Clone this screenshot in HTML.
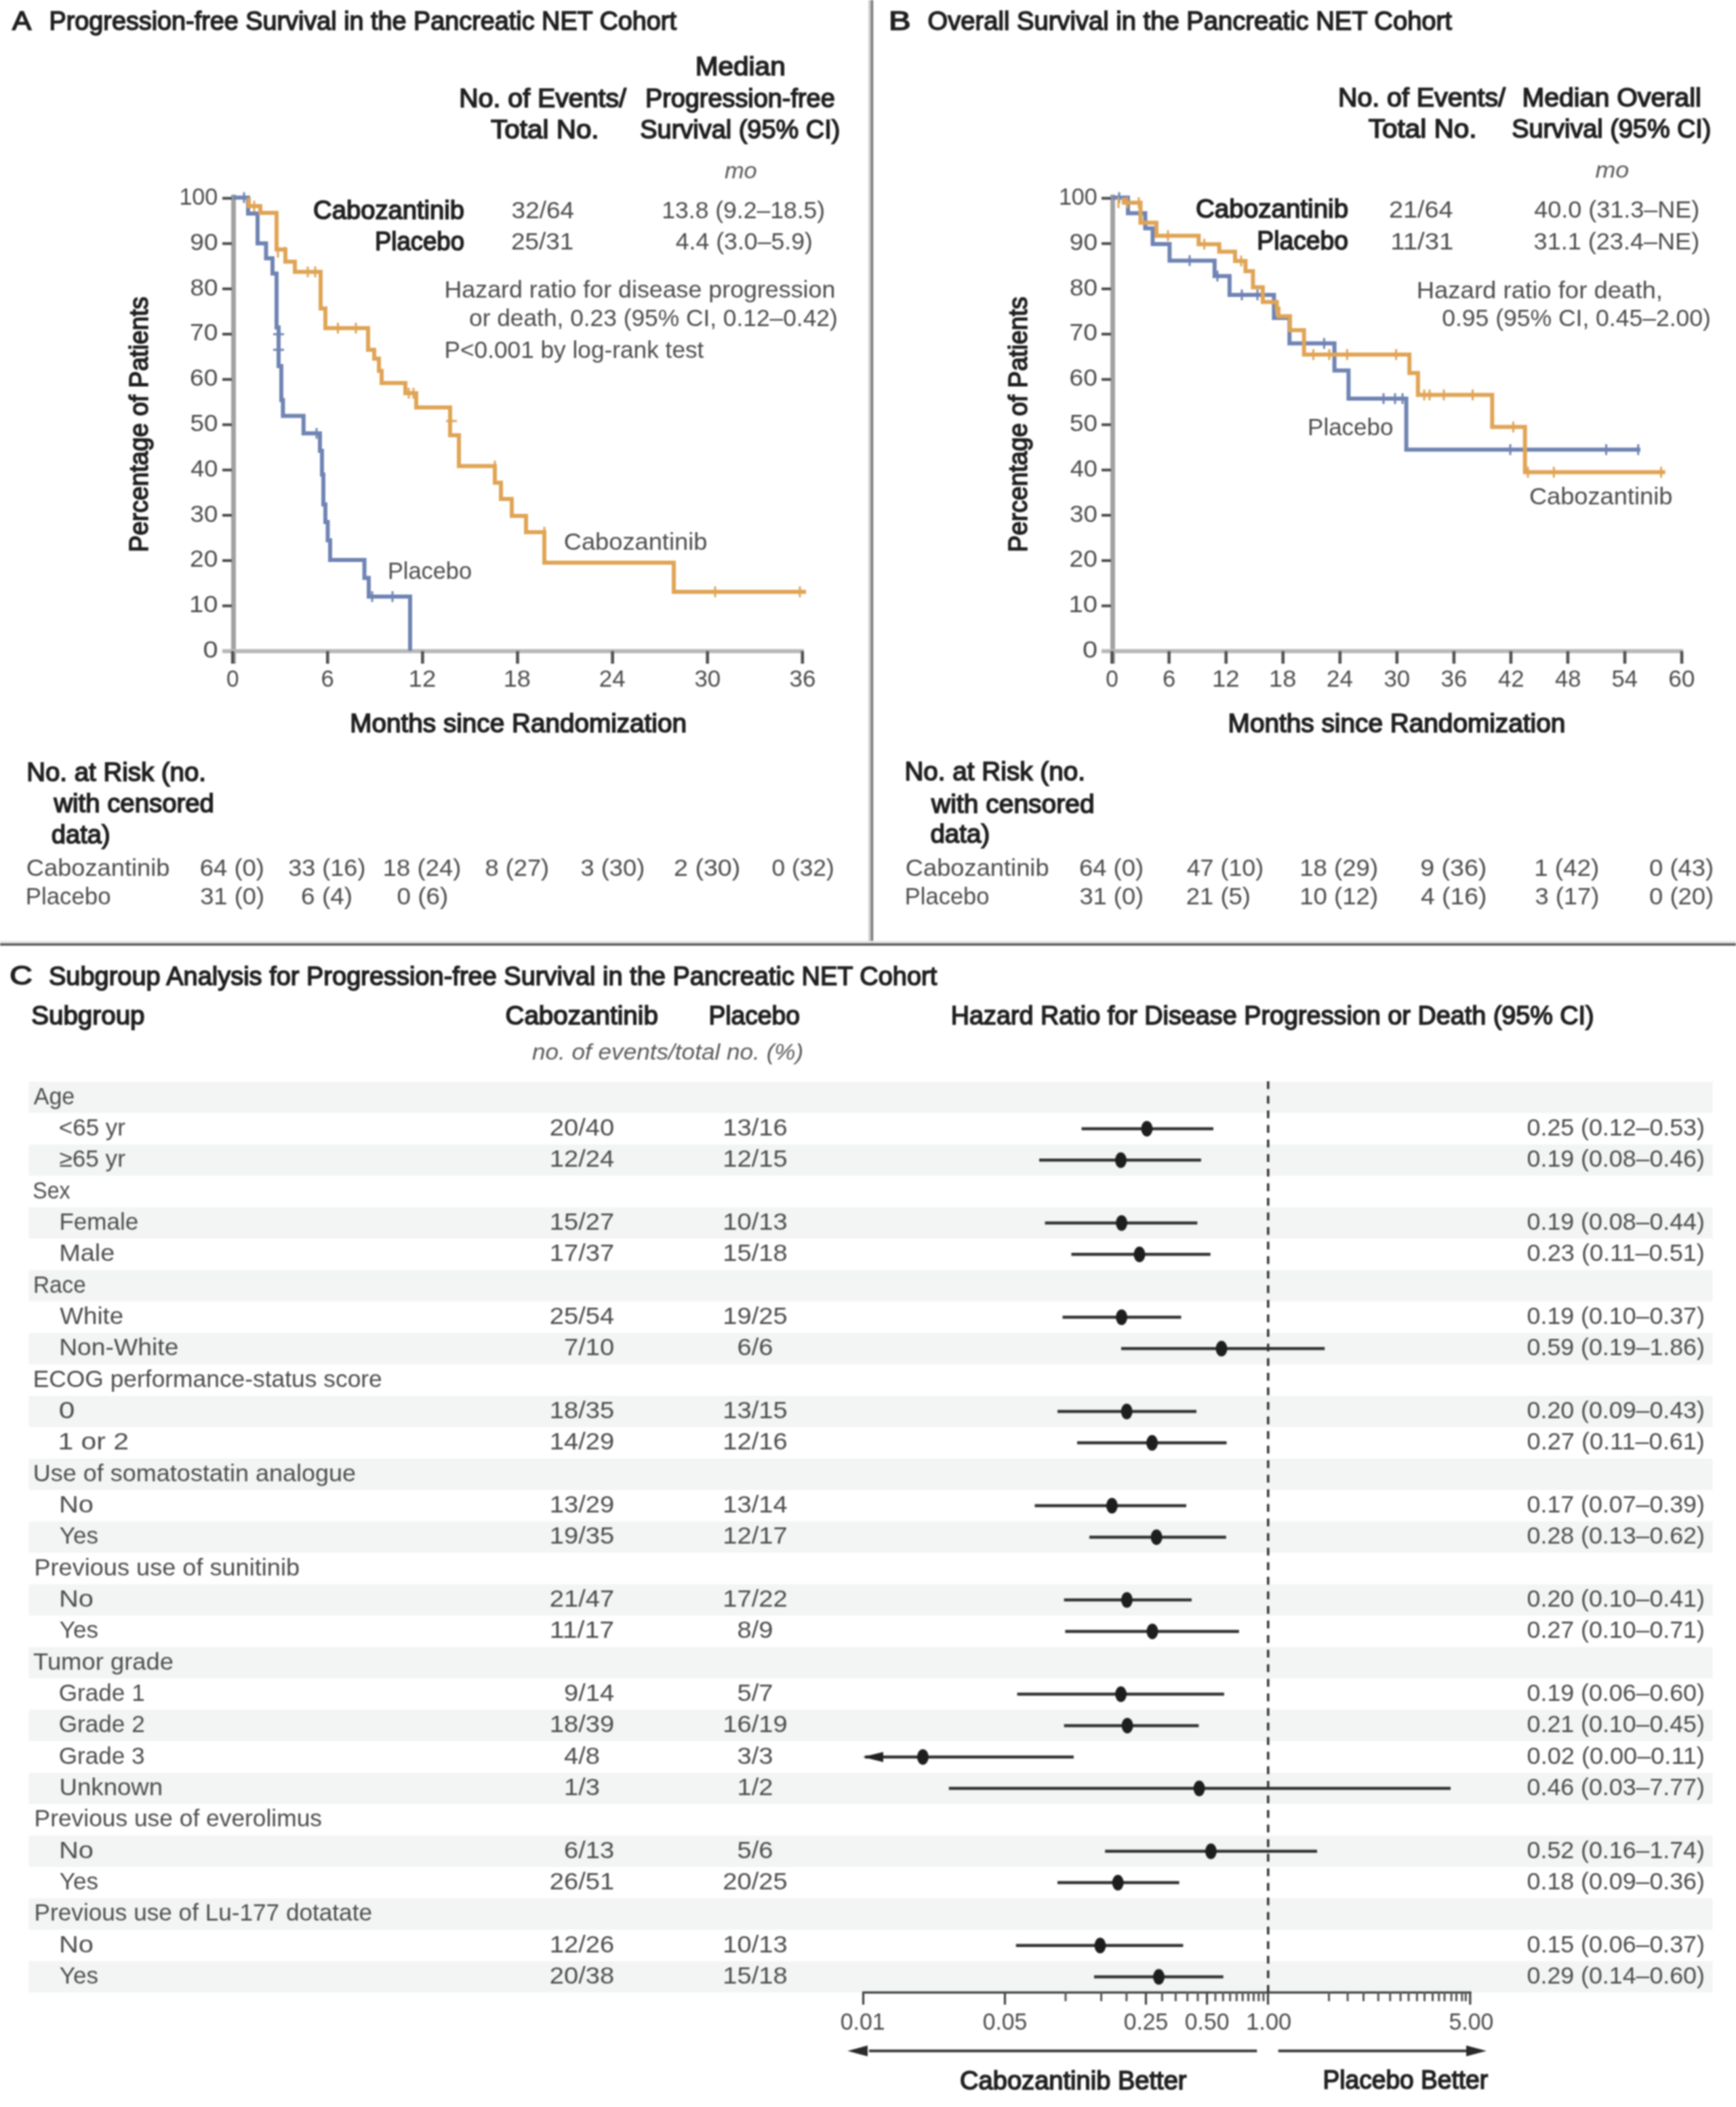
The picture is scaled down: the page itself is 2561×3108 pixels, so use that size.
<!DOCTYPE html>
<html><head><meta charset="utf-8"><title>Figure</title>
<style>
html,body{margin:0;padding:0;background:#fff;}
body{width:2561px;height:3108px;overflow:hidden;}
svg{display:block;font-family:"Liberation Sans",sans-serif;filter:blur(0.8px);}
</style></head><body>
<svg width="2561" height="3108" viewBox="0 0 2561 3108">
<rect x="0" y="0" width="2561" height="3108" fill="#fff"/>
<rect x="1281.3" y="0.0" width="3.5" height="1391.0" fill="#c8c8c8"/>
<rect x="1284.8" y="0.0" width="3.4" height="1393.0" fill="#777777"/>
<rect x="0.0" y="1387.8" width="2561.0" height="3.6" fill="#e6e6e6"/>
<rect x="0.0" y="1391.4" width="2561.0" height="3.6" fill="#5c5c5c"/>
<text x="17.9" y="44.0" font-size="39.0" font-weight="normal" stroke="#202020" stroke-width="1.6" textLength="28.2" lengthAdjust="spacingAndGlyphs" fill="#202020">A</text>
<text x="72.5" y="44.0" font-size="39.0" font-weight="normal" stroke="#202020" stroke-width="1.6" textLength="925.4" lengthAdjust="spacingAndGlyphs" fill="#202020">Progression-free Survival in the Pancreatic NET Cohort</text>
<text x="1025.7" y="111.0" font-size="38.0" font-weight="normal" stroke="#202020" stroke-width="1.6" textLength="133.0" lengthAdjust="spacingAndGlyphs" fill="#202020">Median</text>
<text x="677.3" y="157.7" font-size="38.0" font-weight="normal" stroke="#202020" stroke-width="1.6" textLength="246.7" lengthAdjust="spacingAndGlyphs" fill="#202020">No. of Events/</text>
<text x="951.9" y="158.0" font-size="38.0" font-weight="normal" stroke="#202020" stroke-width="1.6" textLength="279.8" lengthAdjust="spacingAndGlyphs" fill="#202020">Progression-free</text>
<text x="724.1" y="204.0" font-size="38.0" font-weight="normal" stroke="#202020" stroke-width="1.6" textLength="159.5" lengthAdjust="spacingAndGlyphs" fill="#202020">Total No.</text>
<text x="944.3" y="204.0" font-size="38.0" font-weight="normal" stroke="#202020" stroke-width="1.6" textLength="295.1" lengthAdjust="spacingAndGlyphs" fill="#202020">Survival (95% CI)</text>
<text x="1068.9" y="263.0" font-size="33.0" font-style="italic" textLength="47.8" lengthAdjust="spacingAndGlyphs" fill="#5a5a5a">mo</text>
<text x="462.1" y="322.7" font-size="38.0" font-weight="normal" stroke="#202020" stroke-width="1.6" textLength="223.0" lengthAdjust="spacingAndGlyphs" fill="#202020">Cabozantinib</text>
<text x="553.0" y="368.8" font-size="38.0" font-weight="normal" stroke="#202020" stroke-width="1.6" textLength="132.0" lengthAdjust="spacingAndGlyphs" fill="#202020">Placebo</text>
<text x="754.6" y="322.0" font-size="35.0" textLength="92.5" lengthAdjust="spacingAndGlyphs" fill="#4d4d4d">32/64</text>
<text x="754.1" y="368.0" font-size="35.0" textLength="92.3" lengthAdjust="spacingAndGlyphs" fill="#4d4d4d">25/31</text>
<text x="976.3" y="322.0" font-size="35.0" textLength="240.9" lengthAdjust="spacingAndGlyphs" fill="#4d4d4d">13.8 (9.2–18.5)</text>
<text x="996.8" y="368.0" font-size="35.0" textLength="202.1" lengthAdjust="spacingAndGlyphs" fill="#4d4d4d">4.4 (3.0–5.9)</text>
<text x="655.5" y="438.7" font-size="35.0" textLength="576.8" lengthAdjust="spacingAndGlyphs" fill="#4d4d4d">Hazard ratio for disease progression</text>
<text x="692.0" y="481.0" font-size="35.0" textLength="543.7" lengthAdjust="spacingAndGlyphs" fill="#4d4d4d">or death, 0.23 (95% CI, 0.12–0.42)</text>
<text x="655.5" y="528.0" font-size="35.0" textLength="382.9" lengthAdjust="spacingAndGlyphs" fill="#4d4d4d">P&lt;0.001 by log-rank test</text>
<rect x="341.0" y="287.0" width="7.0" height="692.0" fill="#a2a2a2"/>
<rect x="328.0" y="958.5" width="14.0" height="4.0" fill="#4a4a4a"/>
<text x="299.4" y="970.0" font-size="35.0" textLength="22.1" lengthAdjust="spacingAndGlyphs" fill="#4d4d4d">0</text>
<rect x="328.0" y="891.7" width="14.0" height="4.0" fill="#4a4a4a"/>
<text x="279.1" y="903.2" font-size="35.0" textLength="42.4" lengthAdjust="spacingAndGlyphs" fill="#4d4d4d">10</text>
<rect x="328.0" y="824.9" width="14.0" height="4.0" fill="#4a4a4a"/>
<text x="280.1" y="836.4" font-size="35.0" textLength="41.3" lengthAdjust="spacingAndGlyphs" fill="#4d4d4d">20</text>
<rect x="328.0" y="758.1" width="14.0" height="4.0" fill="#4a4a4a"/>
<text x="280.6" y="769.6" font-size="35.0" textLength="40.8" lengthAdjust="spacingAndGlyphs" fill="#4d4d4d">30</text>
<rect x="328.0" y="691.3" width="14.0" height="4.0" fill="#4a4a4a"/>
<text x="281.2" y="702.8" font-size="35.0" textLength="40.2" lengthAdjust="spacingAndGlyphs" fill="#4d4d4d">40</text>
<rect x="328.0" y="624.5" width="14.0" height="4.0" fill="#4a4a4a"/>
<text x="280.5" y="636.0" font-size="35.0" textLength="40.9" lengthAdjust="spacingAndGlyphs" fill="#4d4d4d">50</text>
<rect x="328.0" y="557.7" width="14.0" height="4.0" fill="#4a4a4a"/>
<text x="280.1" y="569.2" font-size="35.0" textLength="41.3" lengthAdjust="spacingAndGlyphs" fill="#4d4d4d">60</text>
<rect x="328.0" y="490.9" width="14.0" height="4.0" fill="#4a4a4a"/>
<text x="280.1" y="502.4" font-size="35.0" textLength="41.4" lengthAdjust="spacingAndGlyphs" fill="#4d4d4d">70</text>
<rect x="328.0" y="424.1" width="14.0" height="4.0" fill="#4a4a4a"/>
<text x="280.4" y="435.6" font-size="35.0" textLength="41.0" lengthAdjust="spacingAndGlyphs" fill="#4d4d4d">80</text>
<rect x="328.0" y="357.3" width="14.0" height="4.0" fill="#4a4a4a"/>
<text x="280.3" y="368.8" font-size="35.0" textLength="41.2" lengthAdjust="spacingAndGlyphs" fill="#4d4d4d">90</text>
<rect x="328.0" y="290.5" width="14.0" height="4.0" fill="#4a4a4a"/>
<text x="264.4" y="302.0" font-size="35.0" textLength="56.9" lengthAdjust="spacingAndGlyphs" fill="#4d4d4d">100</text>
<rect x="328.0" y="957.5" width="857.8" height="6.0" fill="#b8b8b8"/>
<rect x="340.9" y="960.5" width="4.6" height="18.5" fill="#505050"/>
<text x="333.9" y="1013.0" font-size="35.0" textLength="18.6" lengthAdjust="spacingAndGlyphs" fill="#4d4d4d">0</text>
<rect x="481.0" y="960.5" width="4.6" height="18.5" fill="#505050"/>
<text x="473.5" y="1013.0" font-size="35.0" textLength="19.3" lengthAdjust="spacingAndGlyphs" fill="#4d4d4d">6</text>
<rect x="621.1" y="960.5" width="4.6" height="18.5" fill="#505050"/>
<text x="602.6" y="1013.0" font-size="35.0" textLength="40.6" lengthAdjust="spacingAndGlyphs" fill="#4d4d4d">12</text>
<rect x="761.2" y="960.5" width="4.6" height="18.5" fill="#505050"/>
<text x="742.7" y="1013.0" font-size="35.0" textLength="40.3" lengthAdjust="spacingAndGlyphs" fill="#4d4d4d">18</text>
<rect x="901.3" y="960.5" width="4.6" height="18.5" fill="#505050"/>
<text x="883.8" y="1013.0" font-size="35.0" textLength="38.8" lengthAdjust="spacingAndGlyphs" fill="#4d4d4d">24</text>
<rect x="1041.4" y="960.5" width="4.6" height="18.5" fill="#505050"/>
<text x="1024.4" y="1013.0" font-size="35.0" textLength="38.7" lengthAdjust="spacingAndGlyphs" fill="#4d4d4d">30</text>
<rect x="1181.5" y="960.5" width="4.6" height="18.5" fill="#505050"/>
<text x="1164.5" y="1013.0" font-size="35.0" textLength="38.9" lengthAdjust="spacingAndGlyphs" fill="#4d4d4d">36</text>
<text x="516.3" y="1080.4" font-size="38.0" font-weight="normal" stroke="#202020" stroke-width="1.6" textLength="496.7" lengthAdjust="spacingAndGlyphs" fill="#202020">Months since Randomization</text>
<g transform="translate(0,1250.3) rotate(-90)"><text x="435.8" y="217.8" font-size="38.0" font-weight="normal" stroke="#202020" stroke-width="1.6" textLength="376.9" lengthAdjust="spacingAndGlyphs" fill="#202020">Percentage of Patients</text></g>
<text x="39.2" y="1151.6" font-size="38.0" font-weight="normal" stroke="#202020" stroke-width="1.6" textLength="264.8" lengthAdjust="spacingAndGlyphs" fill="#202020">No. at Risk (no.</text>
<text x="79.4" y="1197.7" font-size="38.0" font-weight="normal" stroke="#202020" stroke-width="1.6" textLength="236.5" lengthAdjust="spacingAndGlyphs" fill="#202020">with censored</text>
<text x="75.8" y="1243.8" font-size="38.0" font-weight="normal" stroke="#202020" stroke-width="1.6" textLength="87.0" lengthAdjust="spacingAndGlyphs" fill="#202020">data)</text>
<text x="38.8" y="1291.7" font-size="35.0" textLength="211.6" lengthAdjust="spacingAndGlyphs" fill="#4d4d4d">Cabozantinib</text>
<text x="37.7" y="1334.0" font-size="35.0" textLength="125.9" lengthAdjust="spacingAndGlyphs" fill="#4d4d4d">Placebo</text>
<text x="294.7" y="1291.7" font-size="35.0" textLength="95.3" lengthAdjust="spacingAndGlyphs" fill="#4d4d4d">64 (0)</text>
<text x="425.2" y="1291.7" font-size="35.0" textLength="114.2" lengthAdjust="spacingAndGlyphs" fill="#4d4d4d">33 (16)</text>
<text x="564.8" y="1291.7" font-size="35.0" textLength="115.6" lengthAdjust="spacingAndGlyphs" fill="#4d4d4d">18 (24)</text>
<text x="715.4" y="1291.7" font-size="35.0" textLength="94.8" lengthAdjust="spacingAndGlyphs" fill="#4d4d4d">8 (27)</text>
<text x="856.6" y="1291.7" font-size="35.0" textLength="94.6" lengthAdjust="spacingAndGlyphs" fill="#4d4d4d">3 (30)</text>
<text x="994.1" y="1291.7" font-size="35.0" textLength="98.2" lengthAdjust="spacingAndGlyphs" fill="#4d4d4d">2 (30)</text>
<text x="1138.6" y="1291.7" font-size="35.0" textLength="92.1" lengthAdjust="spacingAndGlyphs" fill="#4d4d4d">0 (32)</text>
<text x="295.2" y="1334.0" font-size="35.0" textLength="94.8" lengthAdjust="spacingAndGlyphs" fill="#4d4d4d">31 (0)</text>
<text x="444.1" y="1334.0" font-size="35.0" textLength="76.0" lengthAdjust="spacingAndGlyphs" fill="#4d4d4d">6 (4)</text>
<text x="585.6" y="1334.0" font-size="35.0" textLength="75.7" lengthAdjust="spacingAndGlyphs" fill="#4d4d4d">0 (6)</text>
<text x="571.9" y="853.5" font-size="35.0" textLength="124.2" lengthAdjust="spacingAndGlyphs" fill="#4d4d4d">Placebo</text>
<text x="831.7" y="810.6" font-size="35.0" textLength="211.7" lengthAdjust="spacingAndGlyphs" fill="#4d4d4d">Cabozantinib</text>
<path d="M344,291.5 H366 V315 H380 V359 H392.5 V381 H402 V403.5 H408 V483 H411 V540 H415 V590 H417.4 V613.5 H447.8 V639.3 H472 V665 H475 V700 H477 V744 H480 V770 H483.5 V797 H487 V826 H537.6 V852.6 H544 V880 H605 V960" fill="none" stroke="#6f84b3" stroke-width="6.0" stroke-linejoin="miter" stroke-linecap="butt"/>
<rect x="358.5" y="283.5" width="3.0" height="16.0" fill="#6f84b3"/>
<rect x="465.5" y="631.3" width="3.0" height="16.0" fill="#6f84b3"/>
<rect x="547.5" y="872.0" width="3.0" height="16.0" fill="#6f84b3"/>
<rect x="577.5" y="872.0" width="3.0" height="16.0" fill="#6f84b3"/>
<rect x="403.0" y="491.5" width="16.0" height="3.0" fill="#6f84b3"/>
<rect x="403.0" y="514.5" width="16.0" height="3.0" fill="#6f84b3"/>
<path d="M367,291.5 V304 H384 V314 H408 V368 H421 V386 H435 V401 H473 V455 H480 V484 H543 V516 H552 V529 H559 V547 H563 V565 H598 V580 H614 V601 H664 V642 H677 V687.5 H730 V712 H739 V736 H755 V761 H776 V785 H803 V830 H994 V873 H1189" fill="none" stroke="#e0a455" stroke-width="6.0" stroke-linejoin="miter" stroke-linecap="butt"/>
<rect x="373.5" y="296.0" width="3.0" height="16.0" fill="#e0a455"/>
<rect x="408.5" y="364.0" width="3.0" height="16.0" fill="#e0a455"/>
<rect x="418.5" y="364.0" width="3.0" height="16.0" fill="#e0a455"/>
<rect x="452.5" y="393.0" width="3.0" height="16.0" fill="#e0a455"/>
<rect x="463.5" y="393.0" width="3.0" height="16.0" fill="#e0a455"/>
<rect x="497.0" y="476.0" width="3.0" height="16.0" fill="#e0a455"/>
<rect x="523.5" y="476.0" width="3.0" height="16.0" fill="#e0a455"/>
<rect x="601.5" y="572.0" width="3.0" height="16.0" fill="#e0a455"/>
<rect x="608.5" y="572.0" width="3.0" height="16.0" fill="#e0a455"/>
<rect x="728.5" y="679.5" width="3.0" height="16.0" fill="#e0a455"/>
<rect x="801.5" y="777.0" width="3.0" height="16.0" fill="#e0a455"/>
<rect x="1053.5" y="865.0" width="3.0" height="16.0" fill="#e0a455"/>
<rect x="1178.5" y="865.0" width="3.0" height="16.0" fill="#e0a455"/>
<rect x="658.0" y="619.5" width="16.0" height="3.0" fill="#e0a455"/>
<text x="1311.0" y="44.0" font-size="39.0" font-weight="normal" stroke="#202020" stroke-width="1.6" textLength="32.6" lengthAdjust="spacingAndGlyphs" fill="#202020">B</text>
<text x="1368.5" y="44.0" font-size="39.0" font-weight="normal" stroke="#202020" stroke-width="1.6" textLength="773.4" lengthAdjust="spacingAndGlyphs" fill="#202020">Overall Survival in the Pancreatic NET Cohort</text>
<text x="1974.0" y="157.0" font-size="38.0" font-weight="normal" stroke="#202020" stroke-width="1.6" textLength="247.0" lengthAdjust="spacingAndGlyphs" fill="#202020">No. of Events/</text>
<text x="2245.4" y="157.0" font-size="38.0" font-weight="normal" stroke="#202020" stroke-width="1.6" textLength="264.3" lengthAdjust="spacingAndGlyphs" fill="#202020">Median Overall</text>
<text x="2018.8" y="203.0" font-size="38.0" font-weight="normal" stroke="#202020" stroke-width="1.6" textLength="159.6" lengthAdjust="spacingAndGlyphs" fill="#202020">Total No.</text>
<text x="2230.3" y="203.0" font-size="38.0" font-weight="normal" stroke="#202020" stroke-width="1.6" textLength="294.1" lengthAdjust="spacingAndGlyphs" fill="#202020">Survival (95% CI)</text>
<text x="2353.4" y="262.0" font-size="33.0" font-style="italic" textLength="49.7" lengthAdjust="spacingAndGlyphs" fill="#5a5a5a">mo</text>
<text x="1764.0" y="321.0" font-size="38.0" font-weight="normal" stroke="#202020" stroke-width="1.6" textLength="225.1" lengthAdjust="spacingAndGlyphs" fill="#202020">Cabozantinib</text>
<text x="1854.3" y="368.0" font-size="38.0" font-weight="normal" stroke="#202020" stroke-width="1.6" textLength="134.7" lengthAdjust="spacingAndGlyphs" fill="#202020">Placebo</text>
<text x="2049.1" y="321.0" font-size="35.0" textLength="94.5" lengthAdjust="spacingAndGlyphs" fill="#4d4d4d">21/64</text>
<text x="2051.2" y="368.0" font-size="35.0" textLength="93.2" lengthAdjust="spacingAndGlyphs" fill="#4d4d4d">11/31</text>
<text x="2263.2" y="321.0" font-size="35.0" textLength="244.1" lengthAdjust="spacingAndGlyphs" fill="#4d4d4d">40.0 (31.3–NE)</text>
<text x="2262.6" y="368.0" font-size="35.0" textLength="244.6" lengthAdjust="spacingAndGlyphs" fill="#4d4d4d">31.1 (23.4–NE)</text>
<text x="2089.7" y="440.0" font-size="35.0" textLength="363.3" lengthAdjust="spacingAndGlyphs" fill="#4d4d4d">Hazard ratio for death,</text>
<text x="2127.2" y="481.4" font-size="35.0" textLength="396.7" lengthAdjust="spacingAndGlyphs" fill="#4d4d4d">0.95 (95% CI, 0.45–2.00)</text>
<rect x="1638.0" y="287.0" width="7.0" height="692.0" fill="#a2a2a2"/>
<rect x="1625.0" y="958.5" width="14.0" height="4.0" fill="#4a4a4a"/>
<text x="1596.9" y="970.0" font-size="35.0" textLength="22.1" lengthAdjust="spacingAndGlyphs" fill="#4d4d4d">0</text>
<rect x="1625.0" y="891.7" width="14.0" height="4.0" fill="#4a4a4a"/>
<text x="1576.6" y="903.2" font-size="35.0" textLength="42.4" lengthAdjust="spacingAndGlyphs" fill="#4d4d4d">10</text>
<rect x="1625.0" y="824.9" width="14.0" height="4.0" fill="#4a4a4a"/>
<text x="1577.6" y="836.4" font-size="35.0" textLength="41.3" lengthAdjust="spacingAndGlyphs" fill="#4d4d4d">20</text>
<rect x="1625.0" y="758.1" width="14.0" height="4.0" fill="#4a4a4a"/>
<text x="1578.1" y="769.6" font-size="35.0" textLength="40.8" lengthAdjust="spacingAndGlyphs" fill="#4d4d4d">30</text>
<rect x="1625.0" y="691.3" width="14.0" height="4.0" fill="#4a4a4a"/>
<text x="1578.7" y="702.8" font-size="35.0" textLength="40.2" lengthAdjust="spacingAndGlyphs" fill="#4d4d4d">40</text>
<rect x="1625.0" y="624.5" width="14.0" height="4.0" fill="#4a4a4a"/>
<text x="1578.0" y="636.0" font-size="35.0" textLength="40.9" lengthAdjust="spacingAndGlyphs" fill="#4d4d4d">50</text>
<rect x="1625.0" y="557.7" width="14.0" height="4.0" fill="#4a4a4a"/>
<text x="1577.6" y="569.2" font-size="35.0" textLength="41.3" lengthAdjust="spacingAndGlyphs" fill="#4d4d4d">60</text>
<rect x="1625.0" y="490.9" width="14.0" height="4.0" fill="#4a4a4a"/>
<text x="1577.6" y="502.4" font-size="35.0" textLength="41.4" lengthAdjust="spacingAndGlyphs" fill="#4d4d4d">70</text>
<rect x="1625.0" y="424.1" width="14.0" height="4.0" fill="#4a4a4a"/>
<text x="1577.9" y="435.6" font-size="35.0" textLength="41.0" lengthAdjust="spacingAndGlyphs" fill="#4d4d4d">80</text>
<rect x="1625.0" y="357.3" width="14.0" height="4.0" fill="#4a4a4a"/>
<text x="1577.8" y="368.8" font-size="35.0" textLength="41.2" lengthAdjust="spacingAndGlyphs" fill="#4d4d4d">90</text>
<rect x="1625.0" y="290.5" width="14.0" height="4.0" fill="#4a4a4a"/>
<text x="1561.9" y="302.0" font-size="35.0" textLength="56.9" lengthAdjust="spacingAndGlyphs" fill="#4d4d4d">100</text>
<rect x="1625.0" y="957.5" width="858.0" height="6.0" fill="#b8b8b8"/>
<rect x="1638.3" y="960.5" width="4.6" height="18.5" fill="#505050"/>
<text x="1631.3" y="1013.0" font-size="35.0" textLength="18.6" lengthAdjust="spacingAndGlyphs" fill="#4d4d4d">0</text>
<rect x="1722.3" y="960.5" width="4.6" height="18.5" fill="#505050"/>
<text x="1714.9" y="1013.0" font-size="35.0" textLength="19.3" lengthAdjust="spacingAndGlyphs" fill="#4d4d4d">6</text>
<rect x="1806.4" y="960.5" width="4.6" height="18.5" fill="#505050"/>
<text x="1787.9" y="1013.0" font-size="35.0" textLength="40.6" lengthAdjust="spacingAndGlyphs" fill="#4d4d4d">12</text>
<rect x="1890.4" y="960.5" width="4.6" height="18.5" fill="#505050"/>
<text x="1872.0" y="1013.0" font-size="35.0" textLength="40.3" lengthAdjust="spacingAndGlyphs" fill="#4d4d4d">18</text>
<rect x="1974.5" y="960.5" width="4.6" height="18.5" fill="#505050"/>
<text x="1957.0" y="1013.0" font-size="35.0" textLength="38.8" lengthAdjust="spacingAndGlyphs" fill="#4d4d4d">24</text>
<rect x="2058.5" y="960.5" width="4.6" height="18.5" fill="#505050"/>
<text x="2041.5" y="1013.0" font-size="35.0" textLength="38.7" lengthAdjust="spacingAndGlyphs" fill="#4d4d4d">30</text>
<rect x="2142.6" y="960.5" width="4.6" height="18.5" fill="#505050"/>
<text x="2125.5" y="1013.0" font-size="35.0" textLength="38.9" lengthAdjust="spacingAndGlyphs" fill="#4d4d4d">36</text>
<rect x="2226.6" y="960.5" width="4.6" height="18.5" fill="#505050"/>
<text x="2210.1" y="1013.0" font-size="35.0" textLength="38.5" lengthAdjust="spacingAndGlyphs" fill="#4d4d4d">42</text>
<rect x="2310.6" y="960.5" width="4.6" height="18.5" fill="#505050"/>
<text x="2294.1" y="1013.0" font-size="35.0" textLength="38.3" lengthAdjust="spacingAndGlyphs" fill="#4d4d4d">48</text>
<rect x="2394.7" y="960.5" width="4.6" height="18.5" fill="#505050"/>
<text x="2377.6" y="1013.0" font-size="35.0" textLength="38.4" lengthAdjust="spacingAndGlyphs" fill="#4d4d4d">54</text>
<rect x="2478.7" y="960.5" width="4.6" height="18.5" fill="#505050"/>
<text x="2461.2" y="1013.0" font-size="35.0" textLength="39.2" lengthAdjust="spacingAndGlyphs" fill="#4d4d4d">60</text>
<text x="1811.6" y="1080.4" font-size="38.0" font-weight="normal" stroke="#202020" stroke-width="1.6" textLength="497.7" lengthAdjust="spacingAndGlyphs" fill="#202020">Months since Randomization</text>
<g transform="translate(0,1250.3) rotate(-90)"><text x="435.8" y="1515.4" font-size="38.0" font-weight="normal" stroke="#202020" stroke-width="1.6" textLength="376.9" lengthAdjust="spacingAndGlyphs" fill="#202020">Percentage of Patients</text></g>
<text x="1334.4" y="1151.0" font-size="38.0" font-weight="normal" stroke="#202020" stroke-width="1.6" textLength="266.6" lengthAdjust="spacingAndGlyphs" fill="#202020">No. at Risk (no.</text>
<text x="1374.1" y="1198.8" font-size="38.0" font-weight="normal" stroke="#202020" stroke-width="1.6" textLength="240.5" lengthAdjust="spacingAndGlyphs" fill="#202020">with censored</text>
<text x="1372.4" y="1242.8" font-size="38.0" font-weight="normal" stroke="#202020" stroke-width="1.6" textLength="88.0" lengthAdjust="spacingAndGlyphs" fill="#202020">data)</text>
<text x="1335.8" y="1291.8" font-size="35.0" textLength="211.8" lengthAdjust="spacingAndGlyphs" fill="#4d4d4d">Cabozantinib</text>
<text x="1334.8" y="1334.0" font-size="35.0" textLength="124.7" lengthAdjust="spacingAndGlyphs" fill="#4d4d4d">Placebo</text>
<text x="1591.9" y="1291.8" font-size="35.0" textLength="95.3" lengthAdjust="spacingAndGlyphs" fill="#4d4d4d">64 (0)</text>
<text x="1750.7" y="1291.8" font-size="35.0" textLength="113.5" lengthAdjust="spacingAndGlyphs" fill="#4d4d4d">47 (10)</text>
<text x="1917.2" y="1291.8" font-size="35.0" textLength="115.9" lengthAdjust="spacingAndGlyphs" fill="#4d4d4d">18 (29)</text>
<text x="2095.2" y="1291.8" font-size="35.0" textLength="98.1" lengthAdjust="spacingAndGlyphs" fill="#4d4d4d">9 (36)</text>
<text x="2263.2" y="1291.8" font-size="35.0" textLength="96.1" lengthAdjust="spacingAndGlyphs" fill="#4d4d4d">1 (42)</text>
<text x="2433.1" y="1291.8" font-size="35.0" textLength="95.0" lengthAdjust="spacingAndGlyphs" fill="#4d4d4d">0 (43)</text>
<text x="1592.4" y="1334.0" font-size="35.0" textLength="94.8" lengthAdjust="spacingAndGlyphs" fill="#4d4d4d">31 (0)</text>
<text x="1749.7" y="1334.0" font-size="35.0" textLength="95.3" lengthAdjust="spacingAndGlyphs" fill="#4d4d4d">21 (5)</text>
<text x="1917.2" y="1334.0" font-size="35.0" textLength="115.9" lengthAdjust="spacingAndGlyphs" fill="#4d4d4d">10 (12)</text>
<text x="2096.1" y="1334.0" font-size="35.0" textLength="97.2" lengthAdjust="spacingAndGlyphs" fill="#4d4d4d">4 (16)</text>
<text x="2264.6" y="1334.0" font-size="35.0" textLength="94.6" lengthAdjust="spacingAndGlyphs" fill="#4d4d4d">3 (17)</text>
<text x="2433.1" y="1334.0" font-size="35.0" textLength="95.0" lengthAdjust="spacingAndGlyphs" fill="#4d4d4d">0 (20)</text>
<text x="1929.1" y="642.0" font-size="35.0" textLength="126.3" lengthAdjust="spacingAndGlyphs" fill="#4d4d4d">Placebo</text>
<text x="2255.9" y="744.0" font-size="35.0" textLength="211.5" lengthAdjust="spacingAndGlyphs" fill="#4d4d4d">Cabozantinib</text>
<path d="M1641,291.5 H1664 V314.6 H1689.5 V336.7 H1700.5 V360 H1725.4 V384.4 H1791.8 V407.2 H1813.9 V435 H1879.4 V469 H1902.3 V506.5 H1968.6 V546.5 H1989.4 V588 H2074.6 V663.2 H2420" fill="none" stroke="#6f84b3" stroke-width="6.0" stroke-linejoin="miter" stroke-linecap="butt"/>
<rect x="1649.5" y="283.5" width="3.0" height="16.0" fill="#6f84b3"/>
<rect x="1753.5" y="376.4" width="3.0" height="16.0" fill="#6f84b3"/>
<rect x="1794.5" y="399.2" width="3.0" height="16.0" fill="#6f84b3"/>
<rect x="1830.5" y="427.0" width="3.0" height="16.0" fill="#6f84b3"/>
<rect x="1853.5" y="427.0" width="3.0" height="16.0" fill="#6f84b3"/>
<rect x="1951.9" y="498.5" width="3.0" height="16.0" fill="#6f84b3"/>
<rect x="2039.5" y="580.0" width="3.0" height="16.0" fill="#6f84b3"/>
<rect x="2056.5" y="580.0" width="3.0" height="16.0" fill="#6f84b3"/>
<rect x="2067.5" y="580.0" width="3.0" height="16.0" fill="#6f84b3"/>
<rect x="2226.5" y="655.2" width="3.0" height="16.0" fill="#6f84b3"/>
<rect x="2368.0" y="655.2" width="3.0" height="16.0" fill="#6f84b3"/>
<rect x="2415.2" y="655.2" width="3.0" height="16.0" fill="#6f84b3"/>
<path d="M1658,291.5 V299 H1682.5 V328.4 H1706 V347.7 H1768.3 V360.2 H1798.7 V371.2 H1822 V385 H1837.4 V400 H1848.4 V423.8 H1862.9 V445.6 H1883.6 V455.3 H1886 V466.4 H1903 V487 H1923.7 V523 H2079.2 V550.3 H2091.8 V582.5 H2201.3 V629.8 H2249.7 V696.6 H2456.6" fill="none" stroke="#e0a455" stroke-width="6.0" stroke-linejoin="miter" stroke-linecap="butt"/>
<rect x="1648.5" y="291.0" width="3.0" height="16.0" fill="#e0a455"/>
<rect x="1661.5" y="291.0" width="3.0" height="16.0" fill="#e0a455"/>
<rect x="1678.5" y="291.0" width="3.0" height="16.0" fill="#e0a455"/>
<rect x="1721.5" y="339.7" width="3.0" height="16.0" fill="#e0a455"/>
<rect x="1775.1" y="352.2" width="3.0" height="16.0" fill="#e0a455"/>
<rect x="1829.5" y="377.0" width="3.0" height="16.0" fill="#e0a455"/>
<rect x="1936.0" y="515.0" width="3.0" height="16.0" fill="#e0a455"/>
<rect x="1959.5" y="515.0" width="3.0" height="16.0" fill="#e0a455"/>
<rect x="1985.8" y="515.0" width="3.0" height="16.0" fill="#e0a455"/>
<rect x="2058.1" y="515.0" width="3.0" height="16.0" fill="#e0a455"/>
<rect x="2099.5" y="574.5" width="3.0" height="16.0" fill="#e0a455"/>
<rect x="2107.5" y="574.5" width="3.0" height="16.0" fill="#e0a455"/>
<rect x="2128.5" y="574.5" width="3.0" height="16.0" fill="#e0a455"/>
<rect x="2171.0" y="574.5" width="3.0" height="16.0" fill="#e0a455"/>
<rect x="2230.9" y="621.8" width="3.0" height="16.0" fill="#e0a455"/>
<rect x="2252.5" y="688.6" width="3.0" height="16.0" fill="#e0a455"/>
<rect x="2290.8" y="688.6" width="3.0" height="16.0" fill="#e0a455"/>
<rect x="2449.0" y="688.6" width="3.0" height="16.0" fill="#e0a455"/>
<text x="14.2" y="1452.0" font-size="39.0" font-weight="normal" stroke="#202020" stroke-width="1.6" textLength="33.5" lengthAdjust="spacingAndGlyphs" fill="#202020">C</text>
<text x="72.0" y="1452.5" font-size="39.0" font-weight="normal" stroke="#202020" stroke-width="1.6" textLength="1310.3" lengthAdjust="spacingAndGlyphs" fill="#202020">Subgroup Analysis for Progression-free Survival in the Pancreatic NET Cohort</text>
<text x="46.2" y="1510.6" font-size="38.0" font-weight="normal" stroke="#202020" stroke-width="1.6" textLength="167.4" lengthAdjust="spacingAndGlyphs" fill="#202020">Subgroup</text>
<text x="745.5" y="1510.8" font-size="38.0" font-weight="normal" stroke="#202020" stroke-width="1.6" textLength="225.4" lengthAdjust="spacingAndGlyphs" fill="#202020">Cabozantinib</text>
<text x="1045.4" y="1510.8" font-size="38.0" font-weight="normal" stroke="#202020" stroke-width="1.6" textLength="134.6" lengthAdjust="spacingAndGlyphs" fill="#202020">Placebo</text>
<text x="1402.8" y="1511.2" font-size="38.0" font-weight="normal" stroke="#202020" stroke-width="1.6" textLength="948.9" lengthAdjust="spacingAndGlyphs" fill="#202020">Hazard Ratio for Disease Progression or Death (95% CI)</text>
<text x="784.9" y="1562.5" font-size="33.0" font-style="italic" textLength="400.4" lengthAdjust="spacingAndGlyphs" fill="#5a5a5a">no. of events/total no. (%)</text>
<rect x="42.4" y="1595.4" width="2484.1" height="46.3" fill="#f3f5f4"/>
<rect x="42.4" y="1688.1" width="2484.1" height="46.3" fill="#f3f5f4"/>
<rect x="42.4" y="1780.8" width="2484.1" height="46.3" fill="#f3f5f4"/>
<rect x="42.4" y="1873.4" width="2484.1" height="46.3" fill="#f3f5f4"/>
<rect x="42.4" y="1966.1" width="2484.1" height="46.3" fill="#f3f5f4"/>
<rect x="42.4" y="2058.8" width="2484.1" height="46.3" fill="#f3f5f4"/>
<rect x="42.4" y="2151.5" width="2484.1" height="46.3" fill="#f3f5f4"/>
<rect x="42.4" y="2244.2" width="2484.1" height="46.3" fill="#f3f5f4"/>
<rect x="42.4" y="2336.8" width="2484.1" height="46.3" fill="#f3f5f4"/>
<rect x="42.4" y="2429.5" width="2484.1" height="46.3" fill="#f3f5f4"/>
<rect x="42.4" y="2522.2" width="2484.1" height="46.3" fill="#f3f5f4"/>
<rect x="42.4" y="2614.9" width="2484.1" height="46.3" fill="#f3f5f4"/>
<rect x="42.4" y="2707.6" width="2484.1" height="46.3" fill="#f3f5f4"/>
<rect x="42.4" y="2800.2" width="2484.1" height="46.3" fill="#f3f5f4"/>
<rect x="42.4" y="2892.9" width="2484.1" height="46.3" fill="#f3f5f4"/>
<line x1="1870.8" y1="1595.0" x2="1870.8" y2="2939.0" stroke="#333" stroke-width="3.5" stroke-dasharray="11.5,10"/>
<text x="49.7" y="1628.6" font-size="35.0" textLength="60.6" lengthAdjust="spacingAndGlyphs" fill="#4d4d4d">Age</text>
<text x="86.8" y="1674.9" font-size="35.0" textLength="98.1" lengthAdjust="spacingAndGlyphs" fill="#4d4d4d">&lt;65 yr</text>
<text x="810.8" y="1674.9" font-size="35.0" textLength="95.4" lengthAdjust="spacingAndGlyphs" fill="#4d4d4d">20/40</text>
<text x="1066.3" y="1674.9" font-size="35.0" textLength="95.4" lengthAdjust="spacingAndGlyphs" fill="#4d4d4d">13/16</text>
<text x="2252.6" y="1674.9" font-size="35.0" textLength="262.3" lengthAdjust="spacingAndGlyphs" fill="#4d4d4d">0.25 (0.12–0.53)</text>
<line x1="1595.6" y1="1664.9" x2="1790.0" y2="1664.9" stroke="#333" stroke-width="4.5"/>
<ellipse cx="1691.9" cy="1664.9" rx="8.5" ry="11.5" fill="#1e1e1e"/>
<text x="87.4" y="1721.3" font-size="35.0" textLength="97.5" lengthAdjust="spacingAndGlyphs" fill="#4d4d4d">≥65 yr</text>
<text x="810.8" y="1721.3" font-size="35.0" textLength="95.4" lengthAdjust="spacingAndGlyphs" fill="#4d4d4d">12/24</text>
<text x="1066.3" y="1721.3" font-size="35.0" textLength="95.4" lengthAdjust="spacingAndGlyphs" fill="#4d4d4d">12/15</text>
<text x="2252.6" y="1721.3" font-size="35.0" textLength="262.3" lengthAdjust="spacingAndGlyphs" fill="#4d4d4d">0.19 (0.08–0.46)</text>
<line x1="1533.0" y1="1711.3" x2="1771.9" y2="1711.3" stroke="#333" stroke-width="4.5"/>
<ellipse cx="1653.5" cy="1711.3" rx="8.5" ry="11.5" fill="#1e1e1e"/>
<text x="48.3" y="1767.6" font-size="35.0" textLength="55.2" lengthAdjust="spacingAndGlyphs" fill="#4d4d4d">Sex</text>
<text x="87.4" y="1814.0" font-size="35.0" textLength="116.9" lengthAdjust="spacingAndGlyphs" fill="#4d4d4d">Female</text>
<text x="810.8" y="1814.0" font-size="35.0" textLength="95.4" lengthAdjust="spacingAndGlyphs" fill="#4d4d4d">15/27</text>
<text x="1066.3" y="1814.0" font-size="35.0" textLength="95.4" lengthAdjust="spacingAndGlyphs" fill="#4d4d4d">10/13</text>
<text x="2252.6" y="1814.0" font-size="35.0" textLength="262.3" lengthAdjust="spacingAndGlyphs" fill="#4d4d4d">0.19 (0.08–0.44)</text>
<line x1="1541.6" y1="1804.0" x2="1766.3" y2="1804.0" stroke="#333" stroke-width="4.5"/>
<ellipse cx="1654.6" cy="1804.0" rx="8.5" ry="11.5" fill="#1e1e1e"/>
<text x="87.2" y="1860.3" font-size="35.0" textLength="82.2" lengthAdjust="spacingAndGlyphs" fill="#4d4d4d">Male</text>
<text x="810.8" y="1860.3" font-size="35.0" textLength="95.4" lengthAdjust="spacingAndGlyphs" fill="#4d4d4d">17/37</text>
<text x="1066.3" y="1860.3" font-size="35.0" textLength="95.4" lengthAdjust="spacingAndGlyphs" fill="#4d4d4d">15/18</text>
<text x="2252.6" y="1860.3" font-size="35.0" textLength="262.3" lengthAdjust="spacingAndGlyphs" fill="#4d4d4d">0.23 (0.11–0.51)</text>
<line x1="1580.5" y1="1850.3" x2="1785.7" y2="1850.3" stroke="#333" stroke-width="4.5"/>
<ellipse cx="1681.0" cy="1850.3" rx="8.5" ry="11.5" fill="#1e1e1e"/>
<text x="48.9" y="1906.6" font-size="35.0" textLength="77.9" lengthAdjust="spacingAndGlyphs" fill="#4d4d4d">Race</text>
<text x="88.3" y="1953.0" font-size="35.0" textLength="93.9" lengthAdjust="spacingAndGlyphs" fill="#4d4d4d">White</text>
<text x="810.8" y="1953.0" font-size="35.0" textLength="95.4" lengthAdjust="spacingAndGlyphs" fill="#4d4d4d">25/54</text>
<text x="1066.3" y="1953.0" font-size="35.0" textLength="95.4" lengthAdjust="spacingAndGlyphs" fill="#4d4d4d">19/25</text>
<text x="2252.6" y="1953.0" font-size="35.0" textLength="262.3" lengthAdjust="spacingAndGlyphs" fill="#4d4d4d">0.19 (0.10–0.37)</text>
<line x1="1567.5" y1="1943.0" x2="1742.5" y2="1943.0" stroke="#333" stroke-width="4.5"/>
<ellipse cx="1654.6" cy="1943.0" rx="8.5" ry="11.5" fill="#1e1e1e"/>
<text x="87.2" y="1999.3" font-size="35.0" textLength="176.2" lengthAdjust="spacingAndGlyphs" fill="#4d4d4d">Non-White</text>
<text x="832.0" y="1999.3" font-size="35.0" textLength="74.2" lengthAdjust="spacingAndGlyphs" fill="#4d4d4d">7/10</text>
<text x="1087.5" y="1999.3" font-size="35.0" textLength="53.0" lengthAdjust="spacingAndGlyphs" fill="#4d4d4d">6/6</text>
<text x="2252.6" y="1999.3" font-size="35.0" textLength="262.3" lengthAdjust="spacingAndGlyphs" fill="#4d4d4d">0.59 (0.19–1.86)</text>
<line x1="1654.0" y1="1989.3" x2="1954.2" y2="1989.3" stroke="#333" stroke-width="4.5"/>
<ellipse cx="1802.0" cy="1989.3" rx="8.5" ry="11.5" fill="#1e1e1e"/>
<text x="48.7" y="2045.7" font-size="35.0" textLength="515.1" lengthAdjust="spacingAndGlyphs" fill="#4d4d4d">ECOG performance-status score</text>
<text x="86.8" y="2092.0" font-size="35.0" textLength="23.6" lengthAdjust="spacingAndGlyphs" fill="#4d4d4d">0</text>
<text x="810.8" y="2092.0" font-size="35.0" textLength="95.4" lengthAdjust="spacingAndGlyphs" fill="#4d4d4d">18/35</text>
<text x="1066.3" y="2092.0" font-size="35.0" textLength="95.4" lengthAdjust="spacingAndGlyphs" fill="#4d4d4d">13/15</text>
<text x="2252.6" y="2092.0" font-size="35.0" textLength="262.3" lengthAdjust="spacingAndGlyphs" fill="#4d4d4d">0.20 (0.09–0.43)</text>
<line x1="1560.0" y1="2082.0" x2="1765.0" y2="2082.0" stroke="#333" stroke-width="4.5"/>
<ellipse cx="1662.2" cy="2082.0" rx="8.5" ry="11.5" fill="#1e1e1e"/>
<text x="85.4" y="2138.3" font-size="35.0" textLength="104.7" lengthAdjust="spacingAndGlyphs" fill="#4d4d4d">1 or 2</text>
<text x="810.8" y="2138.3" font-size="35.0" textLength="95.4" lengthAdjust="spacingAndGlyphs" fill="#4d4d4d">14/29</text>
<text x="1066.3" y="2138.3" font-size="35.0" textLength="95.4" lengthAdjust="spacingAndGlyphs" fill="#4d4d4d">12/16</text>
<text x="2252.6" y="2138.3" font-size="35.0" textLength="262.3" lengthAdjust="spacingAndGlyphs" fill="#4d4d4d">0.27 (0.11–0.61)</text>
<line x1="1589.0" y1="2128.3" x2="1809.5" y2="2128.3" stroke="#333" stroke-width="4.5"/>
<ellipse cx="1699.6" cy="2128.3" rx="8.5" ry="11.5" fill="#1e1e1e"/>
<text x="48.8" y="2184.7" font-size="35.0" textLength="476.3" lengthAdjust="spacingAndGlyphs" fill="#4d4d4d">Use of somatostatin analogue</text>
<text x="87.0" y="2231.0" font-size="35.0" textLength="51.1" lengthAdjust="spacingAndGlyphs" fill="#4d4d4d">No</text>
<text x="810.8" y="2231.0" font-size="35.0" textLength="95.4" lengthAdjust="spacingAndGlyphs" fill="#4d4d4d">13/29</text>
<text x="1066.3" y="2231.0" font-size="35.0" textLength="95.4" lengthAdjust="spacingAndGlyphs" fill="#4d4d4d">13/14</text>
<text x="2252.6" y="2231.0" font-size="35.0" textLength="262.3" lengthAdjust="spacingAndGlyphs" fill="#4d4d4d">0.17 (0.07–0.39)</text>
<line x1="1526.5" y1="2221.0" x2="1750.0" y2="2221.0" stroke="#333" stroke-width="4.5"/>
<ellipse cx="1640.4" cy="2221.0" rx="8.5" ry="11.5" fill="#1e1e1e"/>
<text x="87.8" y="2277.4" font-size="35.0" textLength="57.2" lengthAdjust="spacingAndGlyphs" fill="#4d4d4d">Yes</text>
<text x="810.8" y="2277.4" font-size="35.0" textLength="95.4" lengthAdjust="spacingAndGlyphs" fill="#4d4d4d">19/35</text>
<text x="1066.3" y="2277.4" font-size="35.0" textLength="95.4" lengthAdjust="spacingAndGlyphs" fill="#4d4d4d">12/17</text>
<text x="2252.6" y="2277.4" font-size="35.0" textLength="262.3" lengthAdjust="spacingAndGlyphs" fill="#4d4d4d">0.28 (0.13–0.62)</text>
<line x1="1607.0" y1="2267.4" x2="1808.8" y2="2267.4" stroke="#333" stroke-width="4.5"/>
<ellipse cx="1706.1" cy="2267.4" rx="8.5" ry="11.5" fill="#1e1e1e"/>
<text x="50.5" y="2323.7" font-size="35.0" textLength="391.5" lengthAdjust="spacingAndGlyphs" fill="#4d4d4d">Previous use of sunitinib</text>
<text x="87.0" y="2370.0" font-size="35.0" textLength="51.1" lengthAdjust="spacingAndGlyphs" fill="#4d4d4d">No</text>
<text x="810.8" y="2370.0" font-size="35.0" textLength="95.4" lengthAdjust="spacingAndGlyphs" fill="#4d4d4d">21/47</text>
<text x="1066.3" y="2370.0" font-size="35.0" textLength="95.4" lengthAdjust="spacingAndGlyphs" fill="#4d4d4d">17/22</text>
<text x="2252.6" y="2370.0" font-size="35.0" textLength="262.3" lengthAdjust="spacingAndGlyphs" fill="#4d4d4d">0.20 (0.10–0.41)</text>
<line x1="1569.7" y1="2360.0" x2="1758.0" y2="2360.0" stroke="#333" stroke-width="4.5"/>
<ellipse cx="1662.4" cy="2360.0" rx="8.5" ry="11.5" fill="#1e1e1e"/>
<text x="87.8" y="2416.4" font-size="35.0" textLength="57.2" lengthAdjust="spacingAndGlyphs" fill="#4d4d4d">Yes</text>
<text x="810.8" y="2416.4" font-size="35.0" textLength="95.4" lengthAdjust="spacingAndGlyphs" fill="#4d4d4d">11/17</text>
<text x="1087.5" y="2416.4" font-size="35.0" textLength="53.0" lengthAdjust="spacingAndGlyphs" fill="#4d4d4d">8/9</text>
<text x="2252.6" y="2416.4" font-size="35.0" textLength="262.3" lengthAdjust="spacingAndGlyphs" fill="#4d4d4d">0.27 (0.10–0.71)</text>
<line x1="1571.4" y1="2406.4" x2="1827.8" y2="2406.4" stroke="#333" stroke-width="4.5"/>
<ellipse cx="1700.0" cy="2406.4" rx="8.5" ry="11.5" fill="#1e1e1e"/>
<text x="49.0" y="2462.7" font-size="35.0" textLength="207.0" lengthAdjust="spacingAndGlyphs" fill="#4d4d4d">Tumor grade</text>
<text x="86.7" y="2509.1" font-size="35.0" textLength="127.0" lengthAdjust="spacingAndGlyphs" fill="#4d4d4d">Grade 1</text>
<text x="832.0" y="2509.1" font-size="35.0" textLength="74.2" lengthAdjust="spacingAndGlyphs" fill="#4d4d4d">9/14</text>
<text x="1087.5" y="2509.1" font-size="35.0" textLength="53.0" lengthAdjust="spacingAndGlyphs" fill="#4d4d4d">5/7</text>
<text x="2252.6" y="2509.1" font-size="35.0" textLength="262.3" lengthAdjust="spacingAndGlyphs" fill="#4d4d4d">0.19 (0.06–0.60)</text>
<line x1="1500.6" y1="2499.1" x2="1805.9" y2="2499.1" stroke="#333" stroke-width="4.5"/>
<ellipse cx="1653.6" cy="2499.1" rx="8.5" ry="11.5" fill="#1e1e1e"/>
<text x="86.7" y="2555.4" font-size="35.0" textLength="127.0" lengthAdjust="spacingAndGlyphs" fill="#4d4d4d">Grade 2</text>
<text x="810.8" y="2555.4" font-size="35.0" textLength="95.4" lengthAdjust="spacingAndGlyphs" fill="#4d4d4d">18/39</text>
<text x="1066.3" y="2555.4" font-size="35.0" textLength="95.4" lengthAdjust="spacingAndGlyphs" fill="#4d4d4d">16/19</text>
<text x="2252.6" y="2555.4" font-size="35.0" textLength="262.3" lengthAdjust="spacingAndGlyphs" fill="#4d4d4d">0.21 (0.10–0.45)</text>
<line x1="1569.7" y1="2545.4" x2="1768.4" y2="2545.4" stroke="#333" stroke-width="4.5"/>
<ellipse cx="1663.1" cy="2545.4" rx="8.5" ry="11.5" fill="#1e1e1e"/>
<text x="86.7" y="2601.7" font-size="35.0" textLength="126.8" lengthAdjust="spacingAndGlyphs" fill="#4d4d4d">Grade 3</text>
<text x="832.0" y="2601.7" font-size="35.0" textLength="53.0" lengthAdjust="spacingAndGlyphs" fill="#4d4d4d">4/8</text>
<text x="1087.5" y="2601.7" font-size="35.0" textLength="53.0" lengthAdjust="spacingAndGlyphs" fill="#4d4d4d">3/3</text>
<text x="2252.6" y="2601.7" font-size="35.0" textLength="262.3" lengthAdjust="spacingAndGlyphs" fill="#4d4d4d">0.02 (0.00–0.11)</text>
<line x1="1276.0" y1="2591.7" x2="1584.0" y2="2591.7" stroke="#333" stroke-width="4.5"/>
<path d="M1273,2591.7 L1303,2584.2 L1303,2599.2 Z" fill="#222"/>
<ellipse cx="1361.4" cy="2591.7" rx="8.5" ry="11.5" fill="#1e1e1e"/>
<text x="87.5" y="2648.1" font-size="35.0" textLength="152.7" lengthAdjust="spacingAndGlyphs" fill="#4d4d4d">Unknown</text>
<text x="832.0" y="2648.1" font-size="35.0" textLength="53.0" lengthAdjust="spacingAndGlyphs" fill="#4d4d4d">1/3</text>
<text x="1087.5" y="2648.1" font-size="35.0" textLength="53.0" lengthAdjust="spacingAndGlyphs" fill="#4d4d4d">1/2</text>
<text x="2252.6" y="2648.1" font-size="35.0" textLength="262.3" lengthAdjust="spacingAndGlyphs" fill="#4d4d4d">0.46 (0.03–7.77)</text>
<line x1="1399.8" y1="2638.1" x2="2140.0" y2="2638.1" stroke="#333" stroke-width="4.5"/>
<ellipse cx="1769.1" cy="2638.1" rx="8.5" ry="11.5" fill="#1e1e1e"/>
<text x="50.6" y="2694.4" font-size="35.0" textLength="424.4" lengthAdjust="spacingAndGlyphs" fill="#4d4d4d">Previous use of everolimus</text>
<text x="87.0" y="2740.8" font-size="35.0" textLength="51.1" lengthAdjust="spacingAndGlyphs" fill="#4d4d4d">No</text>
<text x="832.0" y="2740.8" font-size="35.0" textLength="74.2" lengthAdjust="spacingAndGlyphs" fill="#4d4d4d">6/13</text>
<text x="1087.5" y="2740.8" font-size="35.0" textLength="53.0" lengthAdjust="spacingAndGlyphs" fill="#4d4d4d">5/6</text>
<text x="2252.6" y="2740.8" font-size="35.0" textLength="262.3" lengthAdjust="spacingAndGlyphs" fill="#4d4d4d">0.52 (0.16–1.74)</text>
<line x1="1630.2" y1="2730.8" x2="1943.0" y2="2730.8" stroke="#333" stroke-width="4.5"/>
<ellipse cx="1786.4" cy="2730.8" rx="8.5" ry="11.5" fill="#1e1e1e"/>
<text x="87.8" y="2787.1" font-size="35.0" textLength="57.2" lengthAdjust="spacingAndGlyphs" fill="#4d4d4d">Yes</text>
<text x="810.8" y="2787.1" font-size="35.0" textLength="95.4" lengthAdjust="spacingAndGlyphs" fill="#4d4d4d">26/51</text>
<text x="1066.3" y="2787.1" font-size="35.0" textLength="95.4" lengthAdjust="spacingAndGlyphs" fill="#4d4d4d">20/25</text>
<text x="2252.6" y="2787.1" font-size="35.0" textLength="262.3" lengthAdjust="spacingAndGlyphs" fill="#4d4d4d">0.18 (0.09–0.36)</text>
<line x1="1560.0" y1="2777.1" x2="1739.6" y2="2777.1" stroke="#333" stroke-width="4.5"/>
<ellipse cx="1649.2" cy="2777.1" rx="8.5" ry="11.5" fill="#1e1e1e"/>
<text x="50.6" y="2833.4" font-size="35.0" textLength="498.4" lengthAdjust="spacingAndGlyphs" fill="#4d4d4d">Previous use of Lu-177 dotatate</text>
<text x="87.0" y="2879.8" font-size="35.0" textLength="51.1" lengthAdjust="spacingAndGlyphs" fill="#4d4d4d">No</text>
<text x="810.8" y="2879.8" font-size="35.0" textLength="95.4" lengthAdjust="spacingAndGlyphs" fill="#4d4d4d">12/26</text>
<text x="1066.3" y="2879.8" font-size="35.0" textLength="95.4" lengthAdjust="spacingAndGlyphs" fill="#4d4d4d">10/13</text>
<text x="2252.6" y="2879.8" font-size="35.0" textLength="262.3" lengthAdjust="spacingAndGlyphs" fill="#4d4d4d">0.15 (0.06–0.37)</text>
<line x1="1498.8" y1="2869.8" x2="1745.4" y2="2869.8" stroke="#333" stroke-width="4.5"/>
<ellipse cx="1623.0" cy="2869.8" rx="8.5" ry="11.5" fill="#1e1e1e"/>
<text x="87.8" y="2926.1" font-size="35.0" textLength="57.2" lengthAdjust="spacingAndGlyphs" fill="#4d4d4d">Yes</text>
<text x="810.8" y="2926.1" font-size="35.0" textLength="95.4" lengthAdjust="spacingAndGlyphs" fill="#4d4d4d">20/38</text>
<text x="1066.3" y="2926.1" font-size="35.0" textLength="95.4" lengthAdjust="spacingAndGlyphs" fill="#4d4d4d">15/18</text>
<text x="2252.6" y="2926.1" font-size="35.0" textLength="262.3" lengthAdjust="spacingAndGlyphs" fill="#4d4d4d">0.29 (0.14–0.60)</text>
<line x1="1614.0" y1="2916.1" x2="1804.7" y2="2916.1" stroke="#333" stroke-width="4.5"/>
<ellipse cx="1709.5" cy="2916.1" rx="8.5" ry="11.5" fill="#1e1e1e"/>
<rect x="1272.0" y="2937.5" width="898.5" height="3.2" fill="#3c3c3c"/>
<rect x="1271.9" y="2938.0" width="3.2" height="19.0" fill="#444"/>
<rect x="1480.9" y="2938.0" width="3.2" height="19.0" fill="#444"/>
<rect x="1688.9" y="2938.0" width="3.2" height="19.0" fill="#444"/>
<rect x="1779.0" y="2938.0" width="3.2" height="19.0" fill="#444"/>
<rect x="1869.0" y="2938.0" width="3.2" height="19.0" fill="#444"/>
<rect x="2167.2" y="2938.0" width="3.2" height="19.0" fill="#444"/>
<rect x="1570.5" y="2938.0" width="3.0" height="14.0" fill="#555"/>
<rect x="1623.1" y="2938.0" width="3.0" height="14.0" fill="#555"/>
<rect x="1660.4" y="2938.0" width="3.0" height="14.0" fill="#555"/>
<rect x="1712.9" y="2938.0" width="3.0" height="14.0" fill="#555"/>
<rect x="1732.9" y="2938.0" width="3.0" height="14.0" fill="#555"/>
<rect x="1750.2" y="2938.0" width="3.0" height="14.0" fill="#555"/>
<rect x="1765.5" y="2938.0" width="3.0" height="14.0" fill="#555"/>
<rect x="1791.5" y="2938.0" width="3.0" height="14.0" fill="#555"/>
<rect x="1802.8" y="2938.0" width="3.0" height="14.0" fill="#555"/>
<rect x="1813.2" y="2938.0" width="3.0" height="14.0" fill="#555"/>
<rect x="1822.8" y="2938.0" width="3.0" height="14.0" fill="#555"/>
<rect x="1831.7" y="2938.0" width="3.0" height="14.0" fill="#555"/>
<rect x="1840.1" y="2938.0" width="3.0" height="14.0" fill="#555"/>
<rect x="1847.9" y="2938.0" width="3.0" height="14.0" fill="#555"/>
<rect x="1855.3" y="2938.0" width="3.0" height="14.0" fill="#555"/>
<rect x="1862.4" y="2938.0" width="3.0" height="14.0" fill="#555"/>
<rect x="1959.0" y="2938.0" width="3.0" height="14.0" fill="#555"/>
<rect x="1986.6" y="2938.0" width="3.0" height="14.0" fill="#555"/>
<rect x="2010.0" y="2938.0" width="3.0" height="14.0" fill="#555"/>
<rect x="2031.8" y="2938.0" width="3.0" height="14.0" fill="#555"/>
<rect x="2049.3" y="2938.0" width="3.0" height="14.0" fill="#555"/>
<rect x="2064.6" y="2938.0" width="3.0" height="14.0" fill="#555"/>
<rect x="2076.5" y="2938.0" width="3.0" height="14.0" fill="#555"/>
<rect x="2088.9" y="2938.0" width="3.0" height="14.0" fill="#555"/>
<rect x="2100.0" y="2938.0" width="3.0" height="14.0" fill="#555"/>
<rect x="2112.0" y="2938.0" width="3.0" height="14.0" fill="#555"/>
<rect x="2121.2" y="2938.0" width="3.0" height="14.0" fill="#555"/>
<rect x="2129.5" y="2938.0" width="3.0" height="14.0" fill="#555"/>
<rect x="2139.6" y="2938.0" width="3.0" height="14.0" fill="#555"/>
<rect x="2147.0" y="2938.0" width="3.0" height="14.0" fill="#555"/>
<rect x="2155.3" y="2938.0" width="3.0" height="14.0" fill="#555"/>
<rect x="2160.8" y="2938.0" width="3.0" height="14.0" fill="#555"/>
<text x="1239.7" y="2994.0" font-size="35.0" textLength="66.0" lengthAdjust="spacingAndGlyphs" fill="#4d4d4d">0.01</text>
<text x="1449.7" y="2994.0" font-size="35.0" textLength="65.7" lengthAdjust="spacingAndGlyphs" fill="#4d4d4d">0.05</text>
<text x="1657.7" y="2994.0" font-size="35.0" textLength="65.7" lengthAdjust="spacingAndGlyphs" fill="#4d4d4d">0.25</text>
<text x="1747.8" y="2994.0" font-size="35.0" textLength="65.6" lengthAdjust="spacingAndGlyphs" fill="#4d4d4d">0.50</text>
<text x="1838.2" y="2994.0" font-size="35.0" textLength="67.0" lengthAdjust="spacingAndGlyphs" fill="#4d4d4d">1.00</text>
<text x="2137.6" y="2994.0" font-size="35.0" textLength="65.7" lengthAdjust="spacingAndGlyphs" fill="#4d4d4d">5.00</text>
<line x1="1282.0" y1="3025.3" x2="1854.3" y2="3025.3" stroke="#3a3a3a" stroke-width="4.0"/>
<path d="M1250.3,3025.3 L1280,3017.3 L1280,3033.3 Z" fill="#2a2a2a"/>
<line x1="1885.7" y1="3025.3" x2="2165.0" y2="3025.3" stroke="#3a3a3a" stroke-width="4.0"/>
<path d="M2193,3025.3 L2163,3017.3 L2163,3033.3 Z" fill="#2a2a2a"/>
<text x="1416.1" y="3082.3" font-size="38.0" font-weight="normal" stroke="#202020" stroke-width="1.6" textLength="334.4" lengthAdjust="spacingAndGlyphs" fill="#202020">Cabozantinib Better</text>
<text x="1951.6" y="3081.2" font-size="38.0" font-weight="normal" stroke="#202020" stroke-width="1.6" textLength="243.4" lengthAdjust="spacingAndGlyphs" fill="#202020">Placebo Better</text>
</svg>
</body></html>
